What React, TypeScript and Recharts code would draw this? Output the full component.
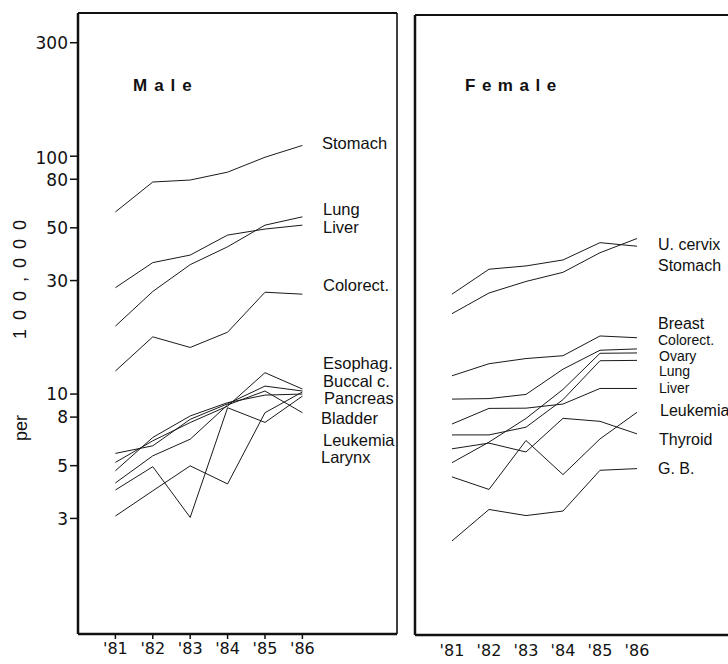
import React from "react";
import { LineChart, Line, XAxis, YAxis, ReferenceLine } from "recharts";

const YEARS = [81, 82, 83, 84, 85, 86];
const YEAR_LABELS = ["'81", "'82", "'83", "'84", "'85", "'86"];
const Y_TICKS = [3, 5, 8, 10, 30, 50, 80, 100, 300];

// Male series (per 100,000)
const maleStomach = [58.3, 77.9, 79.4, 85.7, 99, 111];
const maleLung = [19.3, 27, 35, 41.6, 51.3, 55.6];
const maleLiver = [28, 35.7, 38.4, 46.6, 49.4, 51.3];
const maleColorect = [12.5, 17.4, 15.7, 18.2, 26.8, 26.3];
const maleEsophag = [5.16, 6.36, 7.59, 8.9, 12.3, 10.5];
const maleBuccal = [5.63, 6.06, 7.83, 9.1, 10.8, 10.3];
const malePancreas = [4.76, 6.57, 8.09, 9.2, 9.9, 10.0];
const maleBladder = [4.23, 5.5, 6.46, 9.0, 10.3, 8.35];
const maleLeukemia = [3.07, 3.92, 4.99, 4.19, 8.35, 10.2];
const maleLarynx = [3.95, 4.95, 3.03, 8.76, 7.6, 9.8];

// Female series (per 100,000)
const femUCervix = [22.1, 27.0, 30.2, 33.0, 39.9, 45.8];
const femStomach = [26.7, 34.0, 35.1, 37.2, 44.0, 42.5];
const femBreast = [12.1, 13.6, 14.3, 14.7, 17.8, 17.5];
const femColorect = [9.65, 9.7, 10.1, 12.9, 15.5, 15.7];
const femOvary = [5.21, 6.36, 8.0, 10.6, 15.05, 15.1];
const femLung = [6.82, 6.82, 7.35, 9.6, 14.0, 14.05];
const femLiver = [7.58, 8.82, 8.84, 9.2, 10.7, 10.7];
const femLeukemia = [4.54, 4.02, 6.46, 4.64, 6.56, 8.49];
const femThyroid = [5.96, 6.3, 5.78, 8.01, 7.78, 6.89];
const femGB = [2.44, 3.31, 3.12, 3.26, 4.84, 4.92];

const MALE_NAMES = ["Stomach", "Lung", "Liver", "Colorect.", "Esophag.", "Buccal c.", "Pancreas", "Bladder", "Leukemia", "Larynx"];
const FEMALE_NAMES = ["U. cervix", "Stomach", "Breast", "Colorect.", "Ovary", "Lung", "Liver", "Leukemia", "Thyroid", "G. B."];

const maleSeries = [maleStomach, maleLung, maleLiver, maleColorect, maleEsophag, maleBuccal, malePancreas, maleBladder, maleLeukemia, maleLarynx];
const femaleSeries = [femUCervix, femStomach, femBreast, femColorect, femOvary, femLung, femLiver, femLeukemia, femThyroid, femGB];

const build = (series: number[][]) =>
  YEARS.map((yr, i) => {
    const row: Record<string, number> = { year: yr };
    series.forEach((s, k) => {
      row["s" + k] = s[i];
    });
    return row;
  });

const maleData = build(maleSeries);
const femaleData = build(femaleSeries);

const FONT = "'Liberation Sans', Arial, sans-serif";
const TICK_FONT = "'DejaVu Sans', sans-serif";
const INK = "#111";

const YTick = (props: any) => {
  const { y, payload } = props;
  const v = payload.value;
  const off = v === 100 ? 2 : v === 80 ? 1 : 0;
  return (
    <text x={68} y={y + off} dy="0.36em" textAnchor="end" fontFamily={TICK_FONT} fontSize={17} fill={INK}>
      {v}
    </text>
  );
};

const fmtYear = (v: number) => YEAR_LABELS[YEARS.indexOf(v)] ?? "";

// label layout (page coordinates)
const MALE_LABEL_POS = [
  [322, 143], [323, 209], [323, 227], [323, 285], [323, 363], [323, 381], [324, 398], [321, 418], [323, 440], [321, 457],
];
const FEMALE_LABEL_POS = [
  [658, 244], [658, 265], [658, 323], [658, 340], [659, 356], [659, 371], [659, 388], [660, 410], [659, 439], [658, 468],
];

export default function App() {
  const maleXMax = 88.53;
  const femXMax = 88.46;
  return (
    <div style={{ position: "absolute", left: 0, top: 0, width: 728, height: 664, background: "#fff" }}>
      <div style={{ position: "absolute", left: 0, top: 0 }}>
        <LineChart width={400} height={664} data={maleData} margin={{ top: 13, right: 3, left: 8, bottom: 0 }}>
          <XAxis
            dataKey="year"
            type="number"
            domain={[80, maleXMax]}
            allowDataOverflow
            ticks={YEARS}
            tickFormatter={fmtYear}
            height={30}
            tickSize={5}
            tickMargin={4}
            axisLine={{ stroke: INK, strokeWidth: 2.5 }}
            tickLine={{ stroke: INK, strokeWidth: 1.5 }}
            tick={{ fontFamily: TICK_FONT, fontSize: 16, fill: INK }}
          />
          <YAxis
            scale="log"
            domain={[0.98, 400]}
            allowDataOverflow
            ticks={Y_TICKS}
            width={70}
            tickSize={8}
            tickMargin={2}
            axisLine={{ stroke: INK, strokeWidth: 2.5 }}
            tickLine={{ stroke: INK, strokeWidth: 1.5 }}
            tick={<YTick />}
          />
          <ReferenceLine y={400} stroke={INK} strokeWidth={2} ifOverflow="visible" />
          <ReferenceLine x={maleXMax} stroke={INK} strokeWidth={1.6} ifOverflow="visible" />
          {maleSeries.map((_, k) => (
            <Line key={k} dataKey={"s" + k} type="linear" stroke="#1a1a1a" strokeWidth={1} dot={false} isAnimationActive={false} />
          ))}
        </LineChart>
      </div>
      <div style={{ position: "absolute", left: 405, top: 0 }}>
        <LineChart width={323} height={664} data={femaleData} margin={{ top: 15, right: 0, left: 0, bottom: 0 }}>
          <XAxis
            dataKey="year"
            type="number"
            domain={[80, femXMax]}
            allowDataOverflow
            ticks={YEARS}
            tickFormatter={fmtYear}
            height={29}
            tickSize={5}
            tickMargin={5}
            axisLine={{ stroke: INK, strokeWidth: 2.5 }}
            tickLine={false}
            tick={{ fontFamily: TICK_FONT, fontSize: 16, fill: INK }}
          />
          <YAxis
            scale="log"
            domain={[0.98, 400]}
            allowDataOverflow
            width={10}
            tick={false}
            tickLine={false}
            axisLine={{ stroke: INK, strokeWidth: 2.5 }}
          />
          <ReferenceLine y={400} stroke={INK} strokeWidth={2} ifOverflow="visible" />
          {femaleSeries.map((_, k) => (
            <Line key={k} dataKey={"s" + k} type="linear" stroke="#1a1a1a" strokeWidth={1} dot={false} isAnimationActive={false} />
          ))}
        </LineChart>
      </div>
      <svg width={728} height={664} style={{ position: "absolute", left: 0, top: 0, pointerEvents: "none" }}>
        <defs>
          <clipPath id="maleClip">
            <rect x={0} y={0} width={396} height={664} />
          </clipPath>
        </defs>
        <text x={133} y={91} fontFamily={FONT} fontWeight="bold" fontSize={17} letterSpacing={7} fill={INK}>
          Male
        </text>
        <text x={465} y={91} fontFamily={FONT} fontWeight="bold" fontSize={17} letterSpacing={6.5} fill={INK}>
          Female
        </text>
        <text x={26} y={275} transform="rotate(-90 26 275)" textAnchor="middle" fontFamily={FONT} fontSize={18} letterSpacing={9} fill={INK}>
          100,000
        </text>
        <text x={27} y={428} transform="rotate(-90 27 428)" textAnchor="middle" fontFamily={FONT} fontSize={18} fill={INK}>
          per
        </text>
        <g clipPath="url(#maleClip)">
          {MALE_NAMES.map((n, i) => (
            <text key={n} x={MALE_LABEL_POS[i][0]} y={MALE_LABEL_POS[i][1]} dy="0.36em" fontFamily={FONT} fontSize={16.5} fill={INK}>
              {n}
            </text>
          ))}
        </g>
        {FEMALE_NAMES.map((n, i) => (
          <text key={n + i} x={FEMALE_LABEL_POS[i][0]} y={FEMALE_LABEL_POS[i][1]} dy="0.36em" fontFamily={FONT} fontSize={i >= 3 && i <= 6 ? 14 : 16} fill={INK}>
            {n}
          </text>
        ))}
      </svg>
    </div>
  );
}
